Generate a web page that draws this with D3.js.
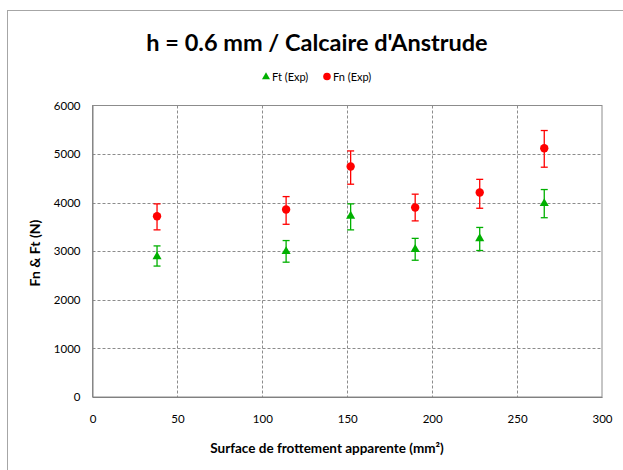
<!DOCTYPE html>
<html><head><meta charset="utf-8">
<script src="https://cdn.jsdelivr.net/npm/d3@7"></script>
<style>
body{margin:0;background:#fff;}
svg{display:block;font-family:Lato,"Open Sans",sans-serif;}
</style></head>
<body>
<svg id="chart" width="623" height="470"></svg>
<script>
const surfaces = [38, 114, 152, 190, 228, 266];
const ftValues = [2890, 2995, 3725, 3040, 3260, 3985];
const ftLow    = [2695, 2775, 3440, 2815, 3015, 3690];
const ftHigh   = [3110, 3220, 3975, 3265, 3490, 4270];
const fnValues = [3720, 3860, 4745, 3900, 4210, 5120];
const fnLow    = [3440, 3555, 4380, 3625, 3885, 4730];
const fnHigh   = [3975, 4125, 5065, 4175, 4480, 5485];
const xTicks = [0, 50, 100, 150, 200, 250, 300];
const yTicks = [0, 1000, 2000, 3000, 4000, 5000, 6000];
const titleText = "h = 0.6 mm / Calcaire d'Anstrude";
const xLabel = "Surface de frottement apparente (mm²)";
const yLabel = "Fn & Ft (N)";

const svg = d3.select("#chart");
const m = {left: 92.5, right: 602, top: 105.5, bottom: 397};
const x = d3.scaleLinear().domain([0, 300]).range([m.left, m.right]);
const y = d3.scaleLinear().domain([0, 6000]).range([m.bottom, m.top]);

// outer frame
svg.append("rect").attr("x", 7.5).attr("y", 10.5).attr("width", 640).attr("height", 480)
  .attr("fill", "none").attr("stroke", "#a6a6a6").attr("stroke-width", 1);

// gridlines
const grid = svg.append("g");
grid.selectAll("line.h").data(yTicks.filter(d => d > 0 && d < 6000)).join("line")
  .attr("x1", m.left).attr("x2", m.right).attr("y1", d => Math.round(y(d)) + 0.5).attr("y2", d => Math.round(y(d)) + 0.5)
  .attr("stroke", "#8c8c8c").attr("stroke-dasharray", "3,2").attr("stroke-width", 1);
grid.selectAll("line.v").data(xTicks.filter(d => d > 0 && d < 300)).join("line")
  .attr("y1", m.top).attr("y2", m.bottom).attr("x1", d => Math.round(x(d)) + 0.5).attr("x2", d => Math.round(x(d)) + 0.5)
  .attr("stroke", "#8c8c8c").attr("stroke-dasharray", "3,2").attr("stroke-width", 1);

// plot border
svg.append("rect").attr("x", m.left).attr("y", m.top).attr("width", m.right - m.left).attr("height", m.bottom - m.top)
  .attr("fill", "none").attr("stroke", "#8c8c8c").attr("stroke-width", 1);

// axes
const xAxis = d3.axisBottom(x).tickValues(xTicks).tickSize(0).tickPadding(18).tickFormat(d3.format("d"));
const gx = svg.append("g").attr("transform", `translate(0,${m.bottom})`).call(xAxis);
gx.select(".domain").attr("stroke", "#808080");
gx.selectAll("text").attr("font-size", 11.5).attr("fill", "#000").attr("font-family", "Lato, sans-serif");

const yAxis = d3.axisLeft(y).tickValues(yTicks).tickSize(0).tickPadding(12).tickFormat(d3.format("d"));
const gy = svg.append("g").attr("transform", `translate(${m.left},0)`).call(yAxis);
gy.select(".domain").attr("stroke", "#808080");
gy.selectAll("text").attr("font-size", 11.5).attr("fill", "#000").attr("font-family", "Lato, sans-serif");

// titles
svg.append("text").attr("x", 317).attr("y", 51).attr("text-anchor", "middle")
  .attr("font-size", 23.5).attr("font-weight", "bold").text(titleText);
svg.append("text").attr("x", 327).attr("y", 453).attr("text-anchor", "middle")
  .attr("font-size", 13.5).attr("font-weight", "bold").text(xLabel);
svg.append("text").attr("transform", "translate(40,253) rotate(-90)").attr("text-anchor", "middle")
  .attr("font-size", 14).attr("font-weight", "bold").text(yLabel);

// legend
const lg = svg.append("g");
lg.append("path").attr("d", d3.symbol(d3.symbolTriangle, 28)()).attr("transform", "translate(266,77)").attr("fill", "#00b000");
lg.append("text").attr("x", 272).attr("y", 81).attr("font-size", 11).text("Ft (Exp)");
lg.append("circle").attr("cx", 327).attr("cy", 76.5).attr("r", 3.8).attr("fill", "#ff0000");
lg.append("text").attr("x", 333).attr("y", 81).attr("font-size", 11).text("Fn (Exp)");

function drawSeries(vals, lo, hi, color, symbolType) {
  const g = svg.append("g");
  const data = surfaces.map((s, i) => ({s, v: vals[i], lo: lo[i], hi: hi[i]}));
  g.selectAll("line.err").data(data).join("line")
    .attr("x1", d => x(d.s)).attr("x2", d => x(d.s)).attr("y1", d => y(d.lo)).attr("y2", d => y(d.hi))
    .attr("stroke", color).attr("stroke-width", 1.3);
  g.selectAll("line.capt").data(data).join("line")
    .attr("x1", d => x(d.s) - 3.5).attr("x2", d => x(d.s) + 3.5).attr("y1", d => y(d.hi)).attr("y2", d => y(d.hi))
    .attr("stroke", color).attr("stroke-width", 1.3);
  g.selectAll("line.capb").data(data).join("line")
    .attr("x1", d => x(d.s) - 3.5).attr("x2", d => x(d.s) + 3.5).attr("y1", d => y(d.lo)).attr("y2", d => y(d.lo))
    .attr("stroke", color).attr("stroke-width", 1.3);
  g.selectAll("path.pt").data(data).join("path")
    .attr("d", d3.symbol(symbolType, symbolType === d3.symbolCircle ? 55 : 36)())
    .attr("transform", d => `translate(${x(d.s)},${y(d.v)})`).attr("fill", color);
}
drawSeries(ftValues, ftLow, ftHigh, "#00b000", d3.symbolTriangle);
drawSeries(fnValues, fnLow, fnHigh, "#ff0000", d3.symbolCircle);
</script>
</body></html>
